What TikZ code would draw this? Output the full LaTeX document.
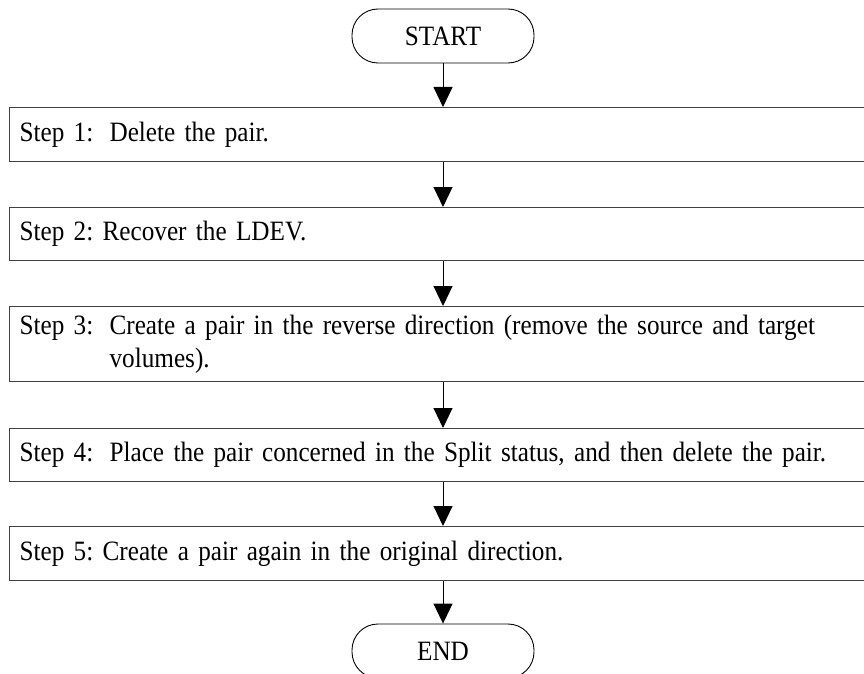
\documentclass[tikz,border=0pt]{standalone}
\usepackage{fontspec}
\setmainfont[FakeStretch=0.9, WordSpace=0.8]{Liberation Serif}
\frenchspacing
\usetikzlibrary{arrows.meta}
\newcommand{\steplab}[1]{\makebox[90pt][l]{#1}}
\begin{document}
\begin{tikzpicture}[x=1pt, y=-1pt,
    every node/.style={font=\fontsize{28pt}{33pt}\selectfont},
    term/.style={draw, line width=0.9pt, rounded corners=26pt, minimum width=182pt, minimum height=54pt, inner sep=0pt},
    stepbox/.style={draw=black!75, line width=1.2pt, anchor=north west, minimum width=880pt, align=left, text width=860pt, inner xsep=6pt, inner ysep=0pt},
    arr/.style={-{Triangle[length=20pt, width=19pt]}, line width=1pt}]
    \useasboundingbox (0,0) rectangle (864,674);
    \clip (0,0) rectangle (864,674);

    % Anfang
    \node[term] (start) at (443,36) {START};

    % Schritte
    \node[stepbox, minimum height=54pt] (s1) at (9,107) {\steplab{Step 1:}Delete the pair.};
    \node[stepbox, minimum height=53pt] (s2) at (9,207) {Step 2: Recover the LDEV.};
    \node[stepbox, minimum height=75pt] (s3) at (9,306) {\steplab{Step 3:}\parbox[t]{740pt}{Create a pair in the reverse direction (remove the source and target\\volumes).}};
    \node[stepbox, minimum height=53pt] (s4) at (9,428) {\steplab{Step 4:}Place the pair concerned in the Split status, and then delete the pair.};
    \node[stepbox, minimum height=54pt] (s5) at (9,526) {Step 5: Create a pair again in the original direction.};

    % Ende
    \node[term] (end) at (443,651) {END};

    % Pfeile
    \draw[arr] (start.south) -- (start.south |- s1.north);
    \draw[arr] (start.south |- s1.south) -- (start.south |- s2.north);
    \draw[arr] (start.south |- s2.south) -- (start.south |- s3.north);
    \draw[arr] (start.south |- s3.south) -- (start.south |- s4.north);
    \draw[arr] (start.south |- s4.south) -- (start.south |- s5.north);
    \draw[arr] (start.south |- s5.south) -- (end.north);
\end{tikzpicture}
\end{document}
